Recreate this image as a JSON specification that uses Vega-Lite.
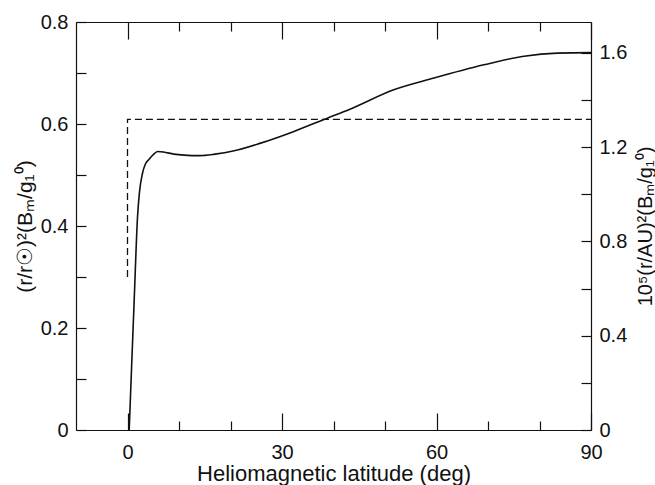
{
  "$schema": "https://vega.github.io/schema/vega-lite/v6.json",
  "autosize": "none",
  "width": 515,
  "height": 408,
  "padding": {"left": 76, "top": 22, "right": 64, "bottom": 55},
  "background": "white",
  "config": {
    "view": {"stroke": null},
    "font": "Liberation Sans",
    "axis": {
      "domainColor": "#111",
      "domainWidth": 1.2,
      "tickColor": "#111",
      "tickWidth": 1.2,
      "labelColor": "#111",
      "titleColor": "#111",
      "labelFont": "Liberation Sans",
      "titleFont": "Liberation Sans",
      "labelFontSize": 20,
      "titleFontSize": 21,
      "titleFontWeight": "normal",
      "grid": false,
      "labelFlush": false,
      "labelOverlap": false
    }
  },
  "datasets": {
    "curve": [
      {"lat": 0.33, "v": 0.0},
      {"lat": 0.8, "v": 0.125},
      {"lat": 1.3, "v": 0.255},
      {"lat": 1.95, "v": 0.418},
      {"lat": 2.3, "v": 0.464},
      {"lat": 2.9, "v": 0.503},
      {"lat": 3.5, "v": 0.522},
      {"lat": 4.2, "v": 0.531},
      {"lat": 5.0, "v": 0.540},
      {"lat": 5.85, "v": 0.546},
      {"lat": 7.0, "v": 0.545},
      {"lat": 9.0, "v": 0.541},
      {"lat": 11.0, "v": 0.539},
      {"lat": 14.0, "v": 0.538},
      {"lat": 17.0, "v": 0.541},
      {"lat": 20.5, "v": 0.547},
      {"lat": 25.7, "v": 0.562},
      {"lat": 32.2, "v": 0.585},
      {"lat": 38.7, "v": 0.611},
      {"lat": 43.2, "v": 0.629},
      {"lat": 51.7, "v": 0.667},
      {"lat": 59.5, "v": 0.690},
      {"lat": 69.2, "v": 0.716},
      {"lat": 77.0, "v": 0.733},
      {"lat": 83.5, "v": 0.739},
      {"lat": 90.0, "v": 0.740}
    ],
    "dash": [
      {"i": 1, "lat": 0, "v": 0.30},
      {"i": 2, "lat": 0, "v": 0.609},
      {"i": 3, "lat": 90, "v": 0.609}
    ]
  },
  "layer": [
    {
      "data": {"name": "curve"},
      "mark": {"type": "line", "color": "#111", "strokeWidth": 1.6, "interpolate": "monotone"},
      "encoding": {
        "x": {
          "field": "lat", "type": "quantitative",
          "scale": {"domain": [-10, 90], "nice": false, "zero": false},
          "axis": {
            "orient": "bottom",
            "title": "Heliomagnetic latitude (deg)",
            "titleFontSize": 22,
            "titleY": 50,
            "titleBaseline": "alphabetic",
            "values": [0, 10, 20, 30, 40, 50, 60, 70, 80, 90],
            "labelExpr": "datum.value % 30 === 0 ? datum.label : ''",
            "tickSize": {"condition": {"test": "datum.value % 30 === 0", "value": -17}, "value": -9},
            "labelPadding": 29
          }
        },
        "y": {
          "field": "v", "type": "quantitative",
          "scale": {"domain": [0, 0.8], "nice": false},
          "axis": {
            "orient": "left",
            "title": "(r/r☉)²(Bₘ/g₁⁰)",
            "titleX": -51,
            "titleBaseline": "middle",
            "values": [0, 0.1, 0.2, 0.3, 0.4, 0.5, 0.6, 0.7, 0.8],
            "labelExpr": "round(datum.value * 10) % 2 === 0 ? (datum.value === 0 ? '0' : format(datum.value, '.1f')) : ''",
            "tickSize": -10,
            "labelPadding": 18
          }
        }
      }
    },
    {
      "data": {"name": "dash"},
      "mark": {"type": "line", "color": "#111", "strokeWidth": 1.3, "strokeDash": [7, 4]},
      "encoding": {
        "x": {
          "field": "lat", "type": "quantitative",
          "scale": {"domain": [-10, 90], "nice": false, "zero": false},
          "axis": {
            "orient": "top",
            "title": null,
            "values": [0, 10, 20, 30, 40, 50, 60, 70, 80, 90],
            "labels": false,
            "tickSize": {"condition": {"test": "datum.value % 30 === 0", "value": -17}, "value": -9}
          }
        },
        "y": {
          "field": "v", "type": "quantitative",
          "scale": {"domain": [0, 0.8], "nice": false},
          "axis": null
        },
        "order": {"field": "i"}
      }
    },
    {
      "data": {"name": "curve"},
      "mark": {"type": "line", "opacity": 0},
      "encoding": {
        "x": {
          "field": "lat", "type": "quantitative",
          "scale": {"domain": [-10, 90], "nice": false, "zero": false},
          "axis": null
        },
        "y": {
          "field": "v", "type": "quantitative",
          "scale": {"domain": [0, 1.7306], "nice": false},
          "axis": {
            "orient": "right",
            "title": "10⁵(r/AU)²(Bₘ/g₁⁰)",
            "titleAngle": 270,
            "titleBaseline": "middle",
            "titleX": 54,
            "titleFontSize": 20,
            "values": [0, 0.2, 0.4, 0.6, 0.8, 1.0, 1.2, 1.4, 1.6],
            "labelExpr": "round(datum.value * 10) % 4 === 0 ? (datum.value === 0 ? '0' : format(datum.value, '.1f')) : ''",
            "tickSize": -10,
            "labelPadding": 18
          }
        }
      }
    }
  ],
  "resolve": {
    "scale": {"y": "independent"},
    "axis": {"x": "independent", "y": "independent"}
  }
}
